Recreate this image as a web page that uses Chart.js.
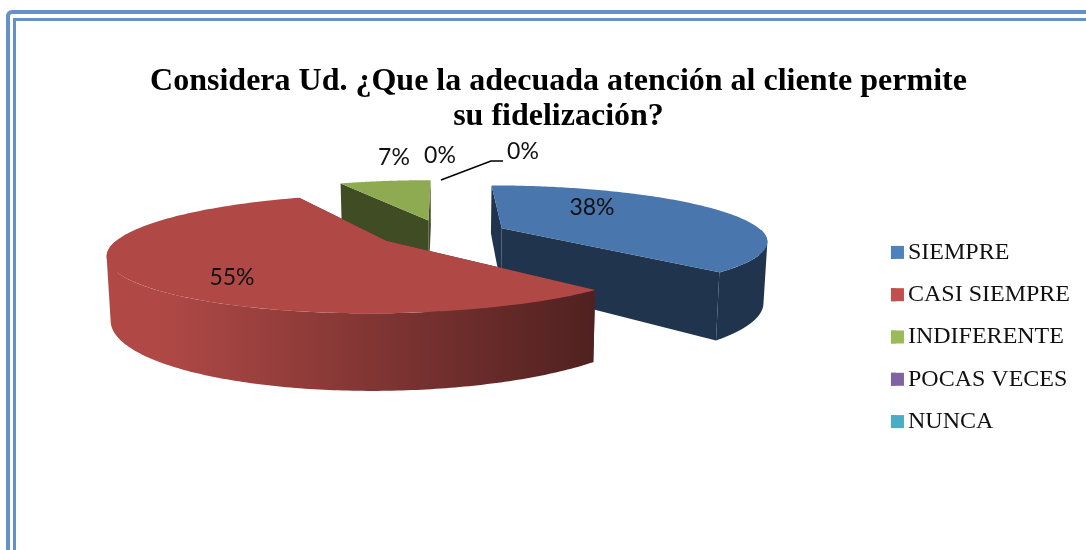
<!DOCTYPE html>
<html>
<head>
<meta charset="utf-8">
<style>
html,body{margin:0;padding:0;background:#fff;overflow:hidden}
#wrap{position:relative;width:1086px;height:550px;overflow:hidden}
.frame{position:absolute;box-sizing:border-box;border:solid #6391C8}
#f1{left:6px;top:10px;width:1200px;height:700px;border-width:4px;border-top-left-radius:6px}
#f2{left:13px;top:18px;width:1200px;height:700px;border-width:3px}
canvas{position:absolute;left:0;top:0}
</style>
<script src="https://cdn.jsdelivr.net/npm/chart.js@4"></script>
</head>
<body>
<div id="wrap">
<div class="frame" id="f1"></div>
<div class="frame" id="f2"></div>
<canvas id="c" width="1086" height="550"></canvas>
</div>
<script>
const categories = ['SIEMPRE', 'CASI SIEMPRE', 'INDIFERENTE', 'POCAS VECES', 'NUNCA'];
const percentages = [38, 55, 7, 0, 0];
const sliceColors = ['#4F81BD', '#C0504D', '#9BBB59', '#8064A2', '#4BACC6'];
const titleLines = ['Considera Ud. ¿Que la adecuada atención al cliente permite', 'su fidelización?'];

function shade(hex, f) {
  const n = parseInt(hex.slice(1), 16);
  return 'rgb(' + [(n >> 16) & 255, (n >> 8) & 255, n & 255].map(v => Math.round(v * f)).join(',') + ')';
}

const pie3d = {
  id: 'pie3d',
  beforeDatasetsDraw(chart, args, o) {
    const ctx = chart.ctx;
    const arcs = chart.getDatasetMeta(0).data;

    // perspective camera for the pie's ground plane
    const project = (X, Y, bottom) => {
      const w = 1 + o.k * Y;
      return [o.vx + (bottom ? o.m : 1) * o.s * X / w,
              o.hy + (o.t + (bottom ? o.depth : 0)) / w];
    };

    const items = arcs.map((arc, i) => {
      const a0 = arc.startAngle + Math.PI / 2, a1 = arc.endAngle + Math.PI / 2;
      const mid = (a0 + a1) / 2, e = arc.options.offset / 100;
      return { i, a0, a1, mid, ex: e * Math.sin(mid), ey: e * Math.cos(mid) };
    }).filter(s => s.a1 - s.a0 > 1e-4)
      .sort((p, q) => Math.cos(q.mid) - Math.cos(p.mid));

    ctx.save();
    items.forEach(s => {
      const base = sliceColors[s.i];
      const rim = (th, bottom) => project(Math.sin(th) + s.ex, Math.cos(th) + s.ey, bottom);
      const apex = b => project(s.ex, s.ey, b);
      const addPoly = pts => {
        let area = 0;
        pts.forEach((p, j) => {
          const q = pts[(j + 1) % pts.length];
          area += p[0] * q[1] - q[0] * p[1];
        });
        const list = area < 0 ? pts.slice().reverse() : pts;
        list.forEach((p, j) => j ? ctx.lineTo(p[0], p[1]) : ctx.moveTo(p[0], p[1]));
        ctx.closePath();
      };
      const poly = (pts, color) => {
        ctx.beginPath();
        addPoly(pts);
        ctx.fillStyle = color; ctx.fill();
      };
      const dark = shade(base, o.darkest);

      // radial side faces
      [s.a0, s.a1].forEach(th => {
        poly([apex(false), rim(th, false), rim(th, true), apex(true)], dark);
      });

      // outer wall (only the part that faces the viewer), lit from the left
      const lo = Math.max(s.a0, o.wallFrom), hi = Math.min(s.a1, o.wallTo);
      const N = 160;
      if (hi > lo) {
        const g = ctx.createLinearGradient(o.lightX, 0, o.darkX, 0);
        g.addColorStop(0, shade(base, o.lightest));
        g.addColorStop(1, dark);
        ctx.beginPath();
        for (let j = 0; j < N; j++) {
          const t0 = lo + (hi - lo) * j / N, t1 = lo + (hi - lo) * (j + 1) / N;
          addPoly([rim(t0, false), rim(t1, false), rim(t1, true), rim(t0, true)]);
        }
        ctx.fillStyle = g; ctx.fill();
      }

      // top surface
      const top = [apex(false)];
      for (let j = 0; j <= N; j++) top.push(rim(s.a0 + (s.a1 - s.a0) * j / N, false));
      poly(top, shade(base, o.lightest));
    });

    // percentage labels
    ctx.fillStyle = '#111';
    ctx.font = o.labelFont;
    ctx.textAlign = 'center';
    ctx.textBaseline = 'middle';
    percentages.forEach((v, i) => {
      ctx.fillText(v + '%', o.labelAt[i][0], o.labelAt[i][1]);
    });

    // leader line of the last label
    ctx.beginPath();
    o.leader.forEach((p, j) => j ? ctx.lineTo(p[0], p[1]) : ctx.moveTo(p[0], p[1]));
    ctx.strokeStyle = '#000'; ctx.lineWidth = 1.5; ctx.stroke();
    ctx.restore();
    return false;
  },
  afterDraw(chart, args, o) {
    // square legend keys over the library's legend hit boxes
    const ctx = chart.ctx, boxes = chart.legend.legendHitBoxes;
    ctx.save();
    boxes.forEach((b, i) => {
      ctx.fillStyle = sliceColors[i];
      ctx.fillRect(b.left, b.top + b.height / 2 - o.key / 2, o.key, o.key);
    });
    ctx.restore();
  }
};

new Chart(document.getElementById('c'), {
  type: 'pie',
  data: {
    labels: categories,
    datasets: [{ data: percentages, backgroundColor: sliceColors, borderWidth: 0, offset: 25 }]
  },
  plugins: [pie3d],
  options: {
    responsive: false,
    animation: false,
    layout: { padding: { left: 37, right: 6, bottom: -60, top: 64 } },
    plugins: {
      tooltip: { enabled: false },
      title: {
        display: true,
        text: titleLines,
        color: '#000',
        font: { family: '"Liberation Serif"', size: 32, weight: 'bold', lineHeight: 1.1 },
        padding: { top: 0, bottom: 4 }
      },
      legend: {
        position: 'right',
        labels: {
          color: '#111',
          font: { family: '"Liberation Serif"', size: 24 },
          boxWidth: 5, boxHeight: 13, padding: 18.3
        }
      },
      pie3d: {
        vx: 442, hy: -22, s: 262, t: 255, k: 0.21, m: 0.988, depth: 59,
        darkest: 0.41, lightest: 0.915,
        wallFrom: 1.6, wallTo: 4.7, lightX: 160, darkX: 596,
        labelFont: '23px Lato',
        labelAt: [[592, 208], [232, 278], [394, 158], [523, 152], [440, 156]],
        leader: [[441, 180], [491, 161], [503, 161]],
        key: 13
      }
    }
  }
});
</script>
</body>
</html>
